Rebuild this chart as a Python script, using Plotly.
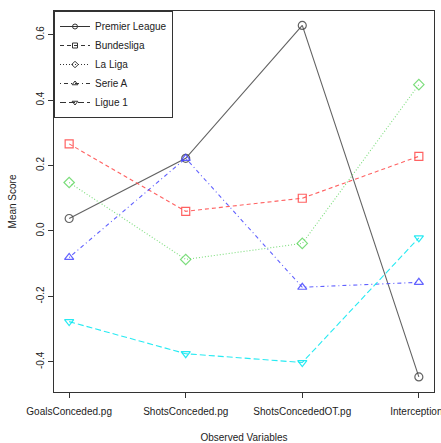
import plotly.graph_objects as go

variables = ["GoalsConceded.pg", "ShotsConceded.pg", "ShotsConcededOT.pg", "Interceptions"]
leagues = ["Premier League", "Bundesliga", "La Liga", "Serie A", "Ligue 1"]
premier_league = [0.038, 0.222, 0.628, -0.446]
bundesliga = [0.266, 0.060, 0.100, 0.228]
la_liga = [0.148, -0.087, -0.038, 0.447]
serie_a = [-0.081, 0.222, -0.172, -0.157]
ligue_1 = [-0.277, -0.375, -0.402, -0.021]

series = [premier_league, bundesliga, la_liga, serie_a, ligue_1]
colors = ["rgba(70,70,70,0.85)", "rgba(255,70,70,0.85)", "rgba(100,215,100,0.85)",
          "rgba(70,70,255,0.85)", "rgba(0,230,240,0.85)"]
dashes = ["solid", "4px,3px", "1px,2px", "1px,3px,4px,3px", "6px,3px"]
symbols = ["circle-open", "square-open", "diamond-open", "triangle-up-open", "triangle-down-open"]

fig = go.Figure()
xpos = [1, 2, 3, 4]
for name, vals, c, d, s in zip(leagues, series, colors, dashes, symbols):
    fig.add_trace(go.Scatter(x=xpos, y=vals, mode="lines+markers", name=name,
                             showlegend=False,
                             line=dict(color=c, dash=d, width=1.1),
                             marker=dict(symbol=s, size=8, color=c, line=dict(width=1.2, color=c))))
for name, d, s in zip(leagues, dashes, symbols):
    fig.add_trace(go.Scatter(x=[None], y=[None], mode="lines+markers", name=name,
                             line=dict(color="#333", dash=d, width=1),
                             marker=dict(symbol=s, size=5, color="#333", line=dict(width=1, color="#333"))))

font = dict(family="Liberation Sans, Arial, sans-serif", size=10, color="#222")
fig.update_layout(
    width=441, height=443,
    margin=dict(l=54, r=7, t=11, b=51),
    paper_bgcolor="white", plot_bgcolor="white",
    font=font,
    showlegend=True,
    legend=dict(x=0, y=1, xanchor="left", yanchor="top", bordercolor="#333", borderwidth=1,
                bgcolor="white", font=dict(size=10), tracegroupgap=0, itemwidth=30),
    xaxis=dict(range=[0.87, 4.13], tickvals=xpos, ticktext=variables, showgrid=False,
               zeroline=False, showline=True, linecolor="#333", linewidth=1, mirror=True,
               ticks="outside", ticklen=5, tickcolor="#333", automargin=False,
               ticklabeloverflow="allow", tickfont=dict(size=10), ticklabelstandoff=5,
               title=dict(text="Observed Variables", standoff=17, font=dict(size=10))),
    yaxis=dict(range=[-0.492, 0.672], tickvals=[-0.4, -0.2, 0.0, 0.2, 0.4, 0.6],
               ticktext=["-0.4", "-0.2", "0.0", "0.2", "0.4", "0.6"], tickangle=-90,
               showgrid=False, zeroline=False, showline=True, linecolor="#333", linewidth=1,
               mirror=True, ticks="outside", ticklen=5, tickcolor="#333", automargin=False,
               ticklabeloverflow="allow", tickfont=dict(size=10),
               title=dict(text="Mean Score", standoff=16, font=dict(size=10))),
)
fig.write_html("out.html", config={"displayModeBar": False},
               post_script="document.body.style.margin='0';")
